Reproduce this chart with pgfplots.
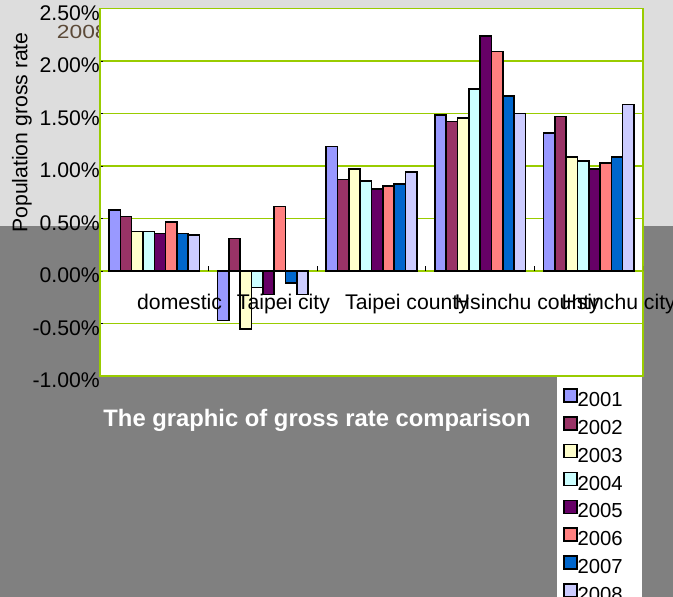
\documentclass[border=0pt]{standalone}
\usepackage{pgfplots}
\pgfplotsset{compat=1.18}
\usepackage{pgfplotstable}
\usepackage{fontspec}
\setmainfont{Liberation Sans}
\definecolor{c2001}{HTML}{9999FF}
\definecolor{c2002}{HTML}{993366}
\definecolor{c2003}{HTML}{FFFFCC}
\definecolor{c2004}{HTML}{CCFFFF}
\definecolor{c2005}{HTML}{660066}
\definecolor{c2006}{HTML}{FF8080}
\definecolor{c2007}{HTML}{0066CC}
\definecolor{c2008}{HTML}{CCCCFF}
\definecolor{lightbg}{HTML}{DDDDDD}
\definecolor{darkbg}{HTML}{808080}
\definecolor{axgreen}{HTML}{99CC00}
\definecolor{browntext}{HTML}{5C4A38}
\pgfplotstableread{
x     y2001  y2002  y2003  y2004  y2005  y2006  y2007  y2008
0.5   0.583  0.520  0.376  0.376  0.357  0.470  0.357  0.342
1.5  -0.472  0.310 -0.550 -0.158 -0.222  0.614 -0.114 -0.222
2.5   1.185  0.874  0.970  0.858  0.780  0.810  0.830  0.944
3.5   1.486  1.426  1.460  1.733  2.240  2.094  1.666  1.502
4.5   1.315  1.473  1.086  1.048  0.970  1.032  1.086  1.587
}\datatable
\newcommand{\tf}{\fontsize{21.2bp}{25bp}\selectfont}
\begin{document}
\begin{tikzpicture}
\useasboundingbox (0bp,0bp) rectangle (673bp,597bp);
\fill[lightbg] (0bp,371bp) rectangle (673bp,597bp);
\fill[darkbg] (0bp,0bp) rectangle (673bp,371bp);
\node[anchor=base west, text=browntext, font=\fontsize{19bp}{23bp}\selectfont, inner sep=0pt, xscale=1.2] at (56.7bp,558.7bp) {2008};
\node[rotate=90, font=\tf, inner sep=0pt] at (22bp,464.5bp) {Population gross rate};
\begin{axis}[
  at={(100bp,221bp)}, anchor=south west,
  scale only axis, width=543bp, height=367.3bp,
  xmin=0, xmax=5, ymin=-1, ymax=2.5,
  ybar=0pt, bar width=11.33bp,
  axis background/.style={fill=white},
  axis line style={draw=axgreen, line width=1.3bp},
  xtick=\empty,
  ytick={-1,-0.5,0,0.5,1,1.5,2,2.5},
  yticklabels={-1.00\%,-0.50\%,0.00\%,0.50\%,1.00\%,1.50\%,2.00\%,2.50\%},
  ymajorgrids,
  every axis grid/.style={draw=axgreen, color=axgreen, line width=1.4bp},
  every major grid/.style={draw=axgreen, color=axgreen, line width=1.4bp},
  y grid style={draw=axgreen, color=axgreen, line width=1.4bp},
  tick align=inside, major tick length=3bp, ytick pos=left,
  major tick style={black, line width=0.8bp},
  /pgf/number format/assume math mode=true,
  yticklabel style={font=\tf, inner sep=0pt, anchor=east, yshift=-4.5bp},
  every axis plot/.append style={draw=black, line width=1.6bp},
  legend style={at={(rel axis cs:0.8416,-0.003)}, anchor=north west,
    draw=none, fill=white, inner xsep=6bp, inner ysep=11bp,
    font=\fontsize{20.3bp}{24bp}\selectfont, row sep=8bp,
    nodes={inner sep=0pt},
    /tikz/every even column/.append style={column sep=5bp}},
  legend cell align=left,
  legend image code/.code={\draw[#1, draw=black, line width=1.4bp] (0bp,-1.7bp) rectangle (13bp,11.3bp);},
]
\addplot[fill=c2001] table[x=x,y=y2001] {\datatable};
\addplot[fill=c2002] table[x=x,y=y2002] {\datatable};
\addplot[fill=c2003] table[x=x,y=y2003] {\datatable};
\addplot[fill=c2004] table[x=x,y=y2004] {\datatable};
\addplot[fill=c2005] table[x=x,y=y2005] {\datatable};
\addplot[fill=c2006] table[x=x,y=y2006] {\datatable};
\addplot[fill=c2007] table[x=x,y=y2007] {\datatable};
\addplot[fill=c2008] table[x=x,y=y2008] {\datatable};
\legend{2001\hspace*{13bp},2002,2003,2004,2005,2006,2007,2008}
\pgfplotsinvokeforeach{1,2,3,4,5}{
  \draw[black, line width=0.8bp] (axis cs:#1,0) -- ++(0bp,5bp);
}
\end{axis}
\node[anchor=base west, font=\tf, inner sep=0pt] at (137bp,287.5bp) {domestic};
\node[anchor=base west, font=\tf, inner sep=0pt] at (236.7bp,287.5bp) {Taipei city};
\node[anchor=base west, font=\tf, inner sep=0pt] at (345bp,287.5bp) {Taipei county};
\node[anchor=base west, font=\tf, inner sep=0pt] at (454.7bp,287.5bp) {Hsinchu county};
\node[anchor=base west, font=\tf, inner sep=0pt] at (561.3bp,287.5bp) {Hsinchu city};
\node[anchor=base, text=white, font=\fontsize{23.8bp}{28bp}\selectfont\bfseries, inner sep=0pt] at (317bp,170bp) {The graphic of gross rate comparison};
\end{tikzpicture}
\end{document}
